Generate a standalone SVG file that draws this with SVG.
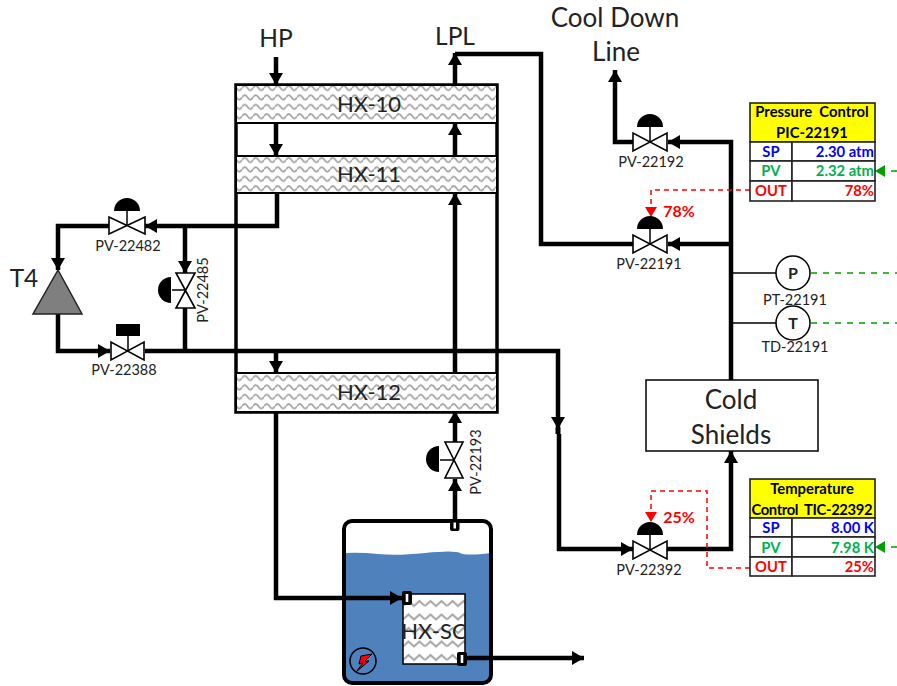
<svg xmlns="http://www.w3.org/2000/svg" width="897" height="686" viewBox="0 0 897 686">
<style>
text{font-family:"Lato","Open Sans","Liberation Sans",sans-serif;fill:#222;text-anchor:middle}
.pipe{fill:none;stroke:#000;stroke-width:4.500}
.thin{fill:none;stroke:#000;stroke-width:1.500}
.red{fill:none;stroke:#f00;stroke-width:1.500;stroke-dasharray:5 4}
.grn{fill:none;stroke:#00a000;stroke-width:1.500;stroke-dasharray:6 6}
.hx{stroke:#000;stroke-width:2}
.v{fill:#fff;stroke:#000;stroke-width:1.600}
.lbl{font-size:14.500px}
.hxt{font-size:22px}
.big{font-size:26px}
.mid{font-size:24.500px}
.tb{font-weight:700;font-size:14.800px;white-space:pre}
.pct{fill:#f00;font-weight:700;font-size:16px}
.cell{fill:#fff;stroke:#222;stroke-width:1.600}
.head{fill:#ff0;stroke:#222;stroke-width:1.600}
.ins{font-weight:700;font-size:16px}
</style>
<defs>
<pattern id="w10" x="0" y="83" width="11" height="9.400" patternUnits="userSpaceOnUse">
<rect width="11" height="9.400" fill="#fff"/>
<path d="M0 5Q2.750 0.500 5.500 5T11 5" fill="none" stroke="#a6a6a6" stroke-width="1.800"/>
</pattern>
<pattern id="w11" x="0" y="155" width="11" height="9.400" patternUnits="userSpaceOnUse">
<rect width="11" height="9.400" fill="#fff"/>
<path d="M0 5Q2.750 0.500 5.500 5T11 5" fill="none" stroke="#a6a6a6" stroke-width="1.800"/>
</pattern>
<pattern id="w12" x="0" y="373" width="11" height="9.400" patternUnits="userSpaceOnUse">
<rect width="11" height="9.400" fill="#fff"/>
<path d="M0 5Q2.750 0.500 5.500 5T11 5" fill="none" stroke="#a6a6a6" stroke-width="1.800"/>
</pattern>
<pattern id="wsc" x="403" y="597" width="22" height="13.500" patternUnits="userSpaceOnUse">
<rect width="22" height="13.500" fill="#fff"/>
<path d="M0 9L5.500 4L11 9L16.500 4L22 9" fill="none" stroke="#a6a6a6" stroke-width="2"/>
</pattern>
<marker id="a" markerUnits="userSpaceOnUse" markerWidth="13" markerHeight="14" refX="12" refY="7" orient="auto"><path d="M0 0L12 7L0 14z" fill="#000"/></marker>
<marker id="ag" markerUnits="userSpaceOnUse" markerWidth="10" markerHeight="12" refX="10" refY="6" orient="auto"><path d="M0 0L10 6L0 12z" fill="#00a000"/></marker>
<marker id="ar" markerUnits="userSpaceOnUse" markerWidth="10" markerHeight="12" refX="10" refY="6" orient="auto"><path d="M0 0L10 6L0 12z" fill="#f00"/></marker>
</defs>

<g id="hx-frame"><rect x="236" y="85" width="261" height="327" fill="none" stroke="#000" stroke-width="3.500"/></g>

<g id="tank">
<path d="M344 553Q360 552 378 554T425 553T460 553T491 553V676Q491 683 484 683H351Q344 683 344 676z" fill="#4f81bd"/>
<rect x="344" y="521" width="147" height="162" rx="8" fill="none" stroke="#000" stroke-width="4"/>
<rect x="403" y="594" width="62" height="70" fill="url(#wsc)" stroke="#000" stroke-width="1.500"/>
<text class="hxt" x="434" y="639">HX-SC</text>
<circle cx="363" cy="661" r="13" fill="none" stroke="#000" stroke-width="1.500"/>
<path d="M372 654L361 656L359 664L363 663L356 672L369 661L365 661z" fill="#f00" stroke="#000"/>
</g>

<g id="connectors">
<path class="pipe" d="M276 57V85" marker-end="url(#a)"/>
<path class="pipe" d="M276 123V156" marker-end="url(#a)"/>
<path class="pipe" d="M277 193V226H145" marker-end="url(#a)"/>
<path class="pipe" d="M185 226V273" marker-end="url(#a)"/>
<path class="pipe" d="M109 226H58V270" marker-end="url(#a)"/>
<path class="pipe" d="M58 314V351H110" marker-end="url(#a)"/>
<path class="pipe" d="M185 308V351"/>
<path class="pipe" d="M145 351H558V429" marker-end="url(#a)"/>
<rect x="555.500" y="428" width="5" height="6" fill="#000"/>
<path class="pipe" d="M559 434V549H633" marker-end="url(#a)"/>
<path class="pipe" d="M276 412V598H402" marker-end="url(#a)"/>
<path class="pipe" d="M276 351V373" marker-end="url(#a)"/>
<path class="pipe" d="M455 521V479" marker-end="url(#a)"/>
<path class="pipe" d="M455 442V411" marker-end="url(#a)"/>
<path class="pipe" d="M455 373V193" marker-end="url(#a)"/>
<path class="pipe" d="M455 156V123" marker-end="url(#a)"/>
<path class="pipe" d="M455 85V53" marker-end="url(#a)"/>
<path class="pipe" d="M455 54H541V244H633"/>
<path class="pipe" d="M633 142H615V70" marker-end="url(#a)"/>
<path class="pipe" d="M731 380V142H668" marker-end="url(#a)"/>
<path class="pipe" d="M731 244H668" marker-end="url(#a)"/>
<path class="pipe" d="M667 549H731V451" marker-end="url(#a)"/>
<path class="pipe" d="M465 658H584" marker-end="url(#a)"/>
<path class="thin" d="M731 273H776M731 323H776"/>
<path class="grn" d="M811 273H897M811 323H897"/>
<path class="grn" d="M897 171H875" marker-end="url(#ag)"/>
<path class="grn" d="M897 547H875" marker-end="url(#ag)"/>
<path class="red" d="M750 190H651V217" marker-end="url(#ar)"/>
<path class="red" d="M750 568H707V491H651V522" marker-end="url(#ar)"/>
</g>

<g id="nozzles">
<rect x="450" y="520" width="9.500" height="11" rx="2" fill="#000"/><rect x="453.500" y="522.500" width="2.500" height="6" fill="#fff"/>
<rect x="402" y="591" width="10" height="14" rx="2" fill="#000"/><rect x="405.700" y="594" width="2.600" height="8" fill="#fff"/>
<rect x="457" y="652" width="10" height="14" rx="2" fill="#000"/><rect x="460.700" y="655" width="2.600" height="8" fill="#fff"/>
</g>

<g id="HX-10"><rect class="hx" fill="url(#w10)" x="236" y="85" width="261" height="38"/><text class="hxt" x="369" y="112">HX-10</text></g>
<g id="HX-11"><rect class="hx" fill="url(#w11)" x="236" y="156" width="261" height="37"/><text class="hxt" x="369" y="182">HX-11</text></g>
<g id="HX-12"><rect class="hx" fill="url(#w12)" x="236" y="373" width="261" height="39"/><text class="hxt" x="369" y="400">HX-12</text></g>

<g id="T4"><path d="M58 270L82 314H33z" fill="#7f7f7f" stroke="#222" stroke-width="1.500"/><text class="mid" x="24" y="287">T4</text></g>

<g id="PV-22482"><path class="v" d="M109 217V234L145 217V234z"/><path class="thin" d="M127 211V226"/><path d="M114 211A13 13 0 0 1 140 211z" fill="#000"/><text class="lbl" x="128" y="251">PV-22482</text></g>
<g id="PV-22388"><path class="v" d="M111 342V360L144 342V360z"/><path class="thin" d="M128 336V351"/><rect x="116" y="324" width="24" height="12" fill="#000"/><text class="lbl" x="124" y="375">PV-22388</text></g>
<g id="PV-22485"><path class="v" d="M176 273H195L176 308H195z"/><path class="thin" d="M172 290H185"/><path d="M171 277A13 13 0 0 0 171 303z" fill="#000"/><text class="lbl" transform="translate(208 290) rotate(-90)">PV-22485</text></g>
<g id="PV-22193"><path class="v" d="M445 442H463L445 478H463z"/><path class="thin" d="M440 460H454"/><path d="M439 446A13 13 0 0 0 439 472z" fill="#000"/><text class="lbl" transform="translate(481 462) rotate(-90)">PV-22193</text></g>
<g id="PV-22192"><path class="v" d="M633 133V151L667 133V151z"/><path class="thin" d="M650 127V142"/><path d="M637 127A13 13 0 0 1 663 127z" fill="#000"/><text class="lbl" x="651" y="167">PV-22192</text></g>
<g id="PV-22191"><path class="v" d="M633 235V253L667 235V253z"/><path class="thin" d="M650 229V244"/><path d="M637 229A13 13 0 0 1 663 229z" fill="#000"/><text class="lbl" x="649" y="269">PV-22191</text><text class="pct" x="679" y="217">78%</text></g>
<g id="PV-22392"><path class="v" d="M633 541V559L667 541V559z"/><path class="thin" d="M650 534V550"/><path d="M637 535A13 13 0 0 1 663 535z" fill="#000"/><text class="lbl" x="649" y="575">PV-22392</text><text class="pct" x="679" y="523">25%</text></g>

<g id="PT-22191"><circle cx="793" cy="273" r="17" fill="#fff" stroke="#000" stroke-width="1.500"/><text class="ins" x="793" y="279">P</text><text class="lbl" x="795" y="305">PT-22191</text></g>
<g id="TD-22191"><circle cx="793" cy="323" r="17" fill="#fff" stroke="#000" stroke-width="1.500"/><text class="ins" x="793" y="329">T</text><text class="lbl" x="795" y="352">TD-22191</text></g>

<g id="cold-shields"><rect x="646" y="380" width="172" height="71" fill="#fff" stroke="#000" stroke-width="1.500"/><text class="big" x="731" y="409">Cold</text><text class="big" x="731" y="444">Shields</text></g>

<g id="pressure-control">
<rect class="head" x="750" y="103" width="125" height="39"/>
<rect class="cell" x="750" y="142" width="42" height="19"/><rect class="cell" x="792" y="142" width="83" height="19"/>
<rect class="cell" x="750" y="161" width="42" height="20"/><rect class="cell" x="792" y="161" width="83" height="20"/>
<rect class="cell" x="750" y="181" width="42" height="20"/><rect class="cell" x="792" y="181" width="83" height="20"/>
<text class="tb" x="812" y="117" style="fill:#000">Pressure  Control</text><text class="tb" x="812" y="138" style="fill:#000">PIC-22191</text>
<text class="tb" x="771" y="157" style="fill:#00f">SP</text><text class="tb" x="874" y="157" style="fill:#00f;text-anchor:end">2.30 atm</text>
<text class="tb" x="771" y="176" style="fill:#00b050">PV</text><text class="tb" x="874" y="176" style="fill:#00b050;text-anchor:end">2.32 atm</text>
<text class="tb" x="771" y="196" style="fill:#f00">OUT</text><text class="tb" x="874" y="196" style="fill:#f00;text-anchor:end">78%</text>
</g>

<g id="temperature-control">
<rect class="head" x="750" y="479" width="125" height="39"/>
<rect class="cell" x="750" y="518" width="42" height="19"/><rect class="cell" x="792" y="518" width="83" height="19"/>
<rect class="cell" x="750" y="537" width="42" height="20"/><rect class="cell" x="792" y="537" width="83" height="20"/>
<rect class="cell" x="750" y="557" width="42" height="19"/><rect class="cell" x="792" y="557" width="83" height="19"/>
<text class="tb" x="812" y="494" style="fill:#000">Temperature</text><text class="tb" x="812" y="515" style="fill:#000" textLength="121" lengthAdjust="spacing">Control  TIC-22392</text>
<text class="tb" x="771" y="533" style="fill:#00f">SP</text><text class="tb" x="874" y="533" style="fill:#00f;text-anchor:end">8.00 K</text>
<text class="tb" x="771" y="553" style="fill:#00b050">PV</text><text class="tb" x="874" y="553" style="fill:#00b050;text-anchor:end">7.98 K</text>
<text class="tb" x="771" y="572" style="fill:#f00">OUT</text><text class="tb" x="874" y="572" style="fill:#f00;text-anchor:end">25%</text>
</g>

<g id="labels">
<text class="mid" x="276" y="47">HP</text>
<text class="mid" x="455" y="45">LPL</text>
<text class="big" x="615" y="27">Cool Down</text>
<text class="big" x="616" y="61">Line</text>
</g>
</svg>
